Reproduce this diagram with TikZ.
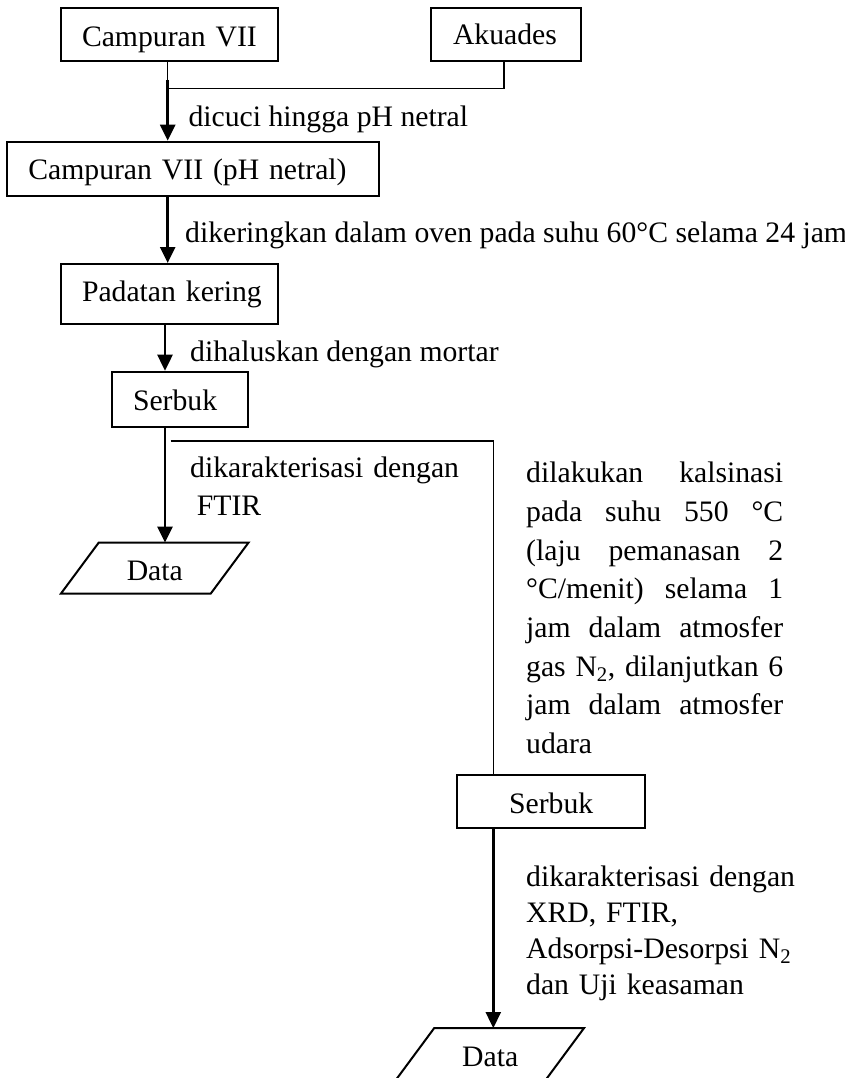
\documentclass[tikz,border=0pt]{standalone}
\usepackage{fontspec}
\setmainfont{Liberation Serif}
\usetikzlibrary{arrows.meta}
\begin{document}
\begin{tikzpicture}[x=1pt,y=-1pt,
  every node/.style={font=\fontsize{29.7}{38.7}\selectfont},
  box/.style={draw, line width=2pt, inner sep=0pt, align=left},
  datanode/.style={inner sep=0pt, minimum width=149.4pt, align=center},
  lbl/.style={inner sep=0pt, anchor=base west},
  flow/.style={line width=2.7pt, -{Triangle[width=15pt,length=16pt]}},
  link/.style={line width=1.3pt},
  branch/.style={line width=1.6pt},
  slant/.style={line width=2pt}]
\useasboundingbox (0,0) rectangle (845,1078);

% columns of the vertical connectors
\coordinate (k1) at (167.7,0);
\coordinate (k3) at (165,0);
\coordinate (k4) at (493.3,0);

% process boxes (text set 21pt in from the left edge)
\node[box, text width=217.3pt, text height=38.4pt, text depth=14.3pt] (c7) at (169.65,34.65)
  {\hspace*{21pt}Campuran VII};
\node[box, text width=149.7pt, text height=36.7pt, text depth=16pt] (ak) at (505.85,34.65)
  {\hspace*{22pt}Akuades};
\node[box, text width=371.7pt, text height=38.3pt, text depth=16pt] (cph) at (193.15,168.85)
  {\hspace*{21pt}Campuran VII (pH netral)};
\node[box, text width=217.3pt, text height=37.7pt, text depth=22.3pt] (pk) at (169.65,294)
  {\hspace*{21pt}Padatan kering};
\node[box, text width=136.3pt, text height=39pt, text depth=16.6pt] (s1) at (180.15,399.5)
  {\hspace*{21pt}Serbuk};
\node[box, text width=187.7pt, align=center, text height=38pt, text depth=15.3pt] (s2) at (551.15,801.65)
  {Serbuk};

% data (parallelogram) nodes
\node[datanode, text height=37.3pt, text depth=13.3pt] (d1) at (154.8,568) {Data};
\draw[slant] ([xshift=18.9pt]d1.north west) -- ([xshift=18.9pt]d1.north east)
  -- ([xshift=-18.9pt]d1.south east) -- ([xshift=-18.9pt]d1.south west) -- cycle;
\node[datanode, text height=38.4pt, text depth=12.3pt] (d2) at (490.2,1053.65) {Data};
\draw[slant] ([xshift=18.9pt]d2.north west) -- ([xshift=18.9pt]d2.north east)
  -- ([xshift=-18.9pt]d2.south east) -- ([xshift=-18.9pt]d2.south west) -- cycle;

% step labels
\node[lbl] (t1) at (188.3,126.5) {dicuci hingga pH netral};
\node[lbl] (t2) at (185,242.5) {dikeringkan dalam oven pada suhu 60°C selama 24 jam};
\node[lbl] (t3) at (190,361.7) {dihaluskan dengan mortar};
\node[lbl, text width=300pt, align=left, font=\fontsize{29.7}{37.5}\selectfont] (t4) at (190,477.5)
  {dikarakterisasi dengan\\\hspace*{6.7pt}FTIR};
\node[lbl, text width=257pt, align=left] (t5) at (526,482.7)
  {dilakukan\hfill kalsinasi\\
   pada\hfill suhu\hfill 550\hfill °C\\
   (laju\hfill pemanasan\hfill 2\\
   °C/menit)\hfill selama\hfill 1\\
   jam\hfill dalam\hfill atmosfer\\
   gas\hfill N\textsubscript{2},\hfill dilanjutkan\hfill 6\\
   jam\hfill dalam\hfill atmosfer\\
   udara};
\node[lbl, text width=300pt, align=left, font=\fontsize{29.7}{36.3}\selectfont] (t6) at (526,886)
  {dikarakterisasi dengan\\
   XRD, FTIR,\\
   Adsorpsi-Desorpsi N\textsubscript{2}\\
   dan Uji keasaman};

% connectors
\coordinate (a1) at (167.7,80);
\coordinate (j1) at (167.7,88.3);
\draw[link] (c7.south -| k1) -- (a1);
\draw[flow] (a1) -- (cph.north -| k1);
\draw[link] ([xshift=-1.85pt]ak.south) |- (j1);
\draw[flow] (cph.south -| k1) -- (pk.north -| k1);
\draw[flow] (pk.south -| k3) -- (s1.north -| k3);
\draw[flow] (s1.south -| k3) -- (d1.north -| k3);
\coordinate (b1) at (170.7,440.7);
\coordinate (b2) at (493.3,440.7);
\draw[branch] (b1) -- (b2) -- (s2.north -| b2);
\draw[flow, line width=2.4pt] (s2.south -| k4) -- (d2.north -| k4);
\end{tikzpicture}
\end{document}
